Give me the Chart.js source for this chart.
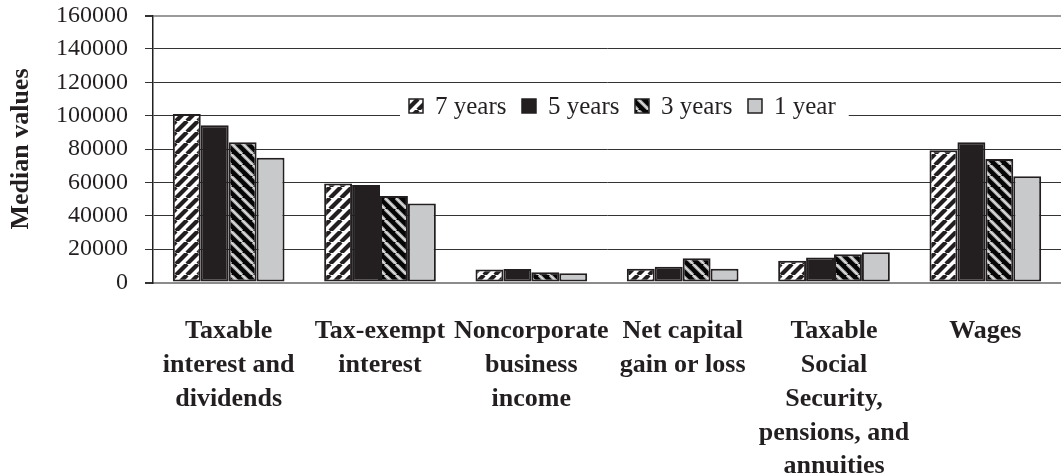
<!DOCTYPE html>
<html>
<head>
<meta charset="utf-8">
<script src="https://cdn.jsdelivr.net/npm/chart.js@4.4.1/dist/chart.umd.min.js"></script>
<style>
  html, body { margin: 0; padding: 0; background: #fff; }
  #wrap { width: 1061px; height: 473px; }
</style>
</head>
<body>
<div id="wrap"><canvas id="chart"></canvas></div>
<script>
// Categories (multi-line labels) and series values
const categories = [
    ['Taxable', 'interest and', 'dividends'],
    ['Tax-exempt', 'interest'],
    ['Noncorporate', 'business', 'income'],
    ['Net capital', 'gain or loss'],
    ['Taxable', 'Social', 'Security,', 'pensions, and', 'annuities'],
    ['Wages']
];
const seriesNames = ['7 years', '5 years', '3 years', '1 year'];
const years7 = [100900, 59400, 7800, 8200, 13000, 79200];
const years5 = [94300, 58500, 8100, 9400, 15000, 84000];
const years3 = [84100, 51900, 6200, 14600, 17000, 74000];
const year1 = [74700, 47400, 5600, 8200, 18200, 63600];
const yTicks = [0, 20000, 40000, 60000, 80000, 100000, 120000, 140000, 160000];

const ink = '#231f20';
const serif = '"Liberation Serif", "Times New Roman", serif';

// Build a small repeating stripe tile
function stripes(bg, fg, lw, dir, inner) {
    const s = 11;
    const c = document.createElement('canvas');
    c.width = s; c.height = s;
    const g = c.getContext('2d');
    g.fillStyle = bg;
    g.fillRect(0, 0, s, s);
    const pass = (color, width) => {
        g.strokeStyle = color;
        g.lineWidth = width;
        for (let k = -1; k <= 1; k++) {
            g.beginPath();
            if (dir > 0) { g.moveTo(k * s, s); g.lineTo(k * s + s, 0); }
            else { g.moveTo(k * s, 0); g.lineTo(k * s + s, s); }
            g.stroke();
        }
    };
    pass(fg, lw);
    if (inner) pass(inner, 1.2);
    return g.createPattern(c, 'repeat');
}

const fills = [
    stripes('#ffffff', ink, 4.2, 1),
    ink,
    stripes('#050505', '#a8a8a8', 3.4, -1, '#e8e8e8'),
    '#c8c9cb'
];
const seriesValues = [years7, years5, years3, year1];

// Legend drawn inside the plot, over the 100000 gridline
const insideLegend = {
    id: 'insideLegend',
    afterDraw(chart) {
        const ctx = chart.ctx;
        const area = chart.chartArea;
        const box = 14, gapText = 12, gapItem = 15.5, padX = 9;
        const cy = 106;
        ctx.save();
        ctx.font = '25px ' + serif;
        const widths = chart.data.datasets.map(ds => ctx.measureText(ds.label).width);
        let total = padX * 2;
        widths.forEach((w, i) => { total += box + gapText + w + (i < widths.length - 1 ? gapItem : 0); });
        const left = area.left + 247;
        ctx.fillStyle = '#ffffff';
        ctx.fillRect(left, cy - 12, total + 4, 25);
        let x = left + padX;
        ctx.textBaseline = 'middle';
        chart.data.datasets.forEach((ds, i) => {
            ctx.fillStyle = ds.backgroundColor;
            ctx.fillRect(x, cy - 7, box, box);
            ctx.strokeStyle = ink;
            ctx.lineWidth = 1.5;
            ctx.strokeRect(x, cy - 7, box, box);
            ctx.fillStyle = ink;
            ctx.fillText(ds.label, x + box + gapText, cy + 1);
            x += box + gapText + widths[i] + gapItem;
        });
        ctx.restore();
    }
};

const ctx = document.getElementById('chart').getContext('2d');
new Chart(ctx, {
    type: 'bar',
    data: {
        labels: categories,
        datasets: seriesNames.map((name, i) => ({
            label: name,
            data: seriesValues[i],
            backgroundColor: fills[i],
            borderColor: ink,
            borderWidth: 2,
            borderSkipped: false,
            barPercentage: 1.0,
            categoryPercentage: 0.738
        }))
    },
    options: {
        responsive: true,
        maintainAspectRatio: false,
        animation: false,
        layout: { padding: { left: 0, top: 15.5, right: -8, bottom: 0 } },
        plugins: {
            legend: { display: false },
            tooltip: { enabled: false }
        },
        scales: {
            x: {
                grid: { display: false },
                border: { display: true, color: '#8c8c8c', width: 2 },
                ticks: {
                    color: ink,
                    font: { family: serif, size: 26, weight: 'bold', lineHeight: 1.3 },
                    padding: 24,
                    maxRotation: 0,
                    autoSkip: false
                },
                afterFit: function(scale) {
                    scale.height = 190.5;
                    scale.paddingLeft = 0;
                    scale.paddingRight = 0;
                }
            },
            y: {
                min: 0,
                max: 160000,
                afterBuildTicks: function(scale) {
                    scale.ticks = yTicks.map(v => ({ value: v }));
                },
                grid: {
                    color: c => (c.tick && (c.tick.value === 0 || c.tick.value === 160000)) ? '#9a9a9a' : '#333333',
                    lineWidth: c => (c.tick && (c.tick.value === 0 || c.tick.value === 160000)) ? 2 : 1,
                    tickColor: '#333333',
                    tickLength: 8
                },
                border: { display: true, color: ink, width: 1.5 },
                ticks: {
                    color: ink,
                    font: { family: serif, size: 24 },
                    padding: 17,
                    autoSkip: false,
                    callback: v => String(v)
                },
                title: {
                    display: true,
                    text: 'Median values',
                    color: ink,
                    font: { family: serif, size: 26, weight: 'bold' },
                    padding: { top: 6, bottom: 0 }
                },
                afterFit: function(scale) {
                    scale.width = 153;
                    scale.paddingTop = 0;
                    scale.paddingBottom = 0;
                }
            }
        }
    },
    plugins: [insideLegend]
});
</script>
</body>
</html>
